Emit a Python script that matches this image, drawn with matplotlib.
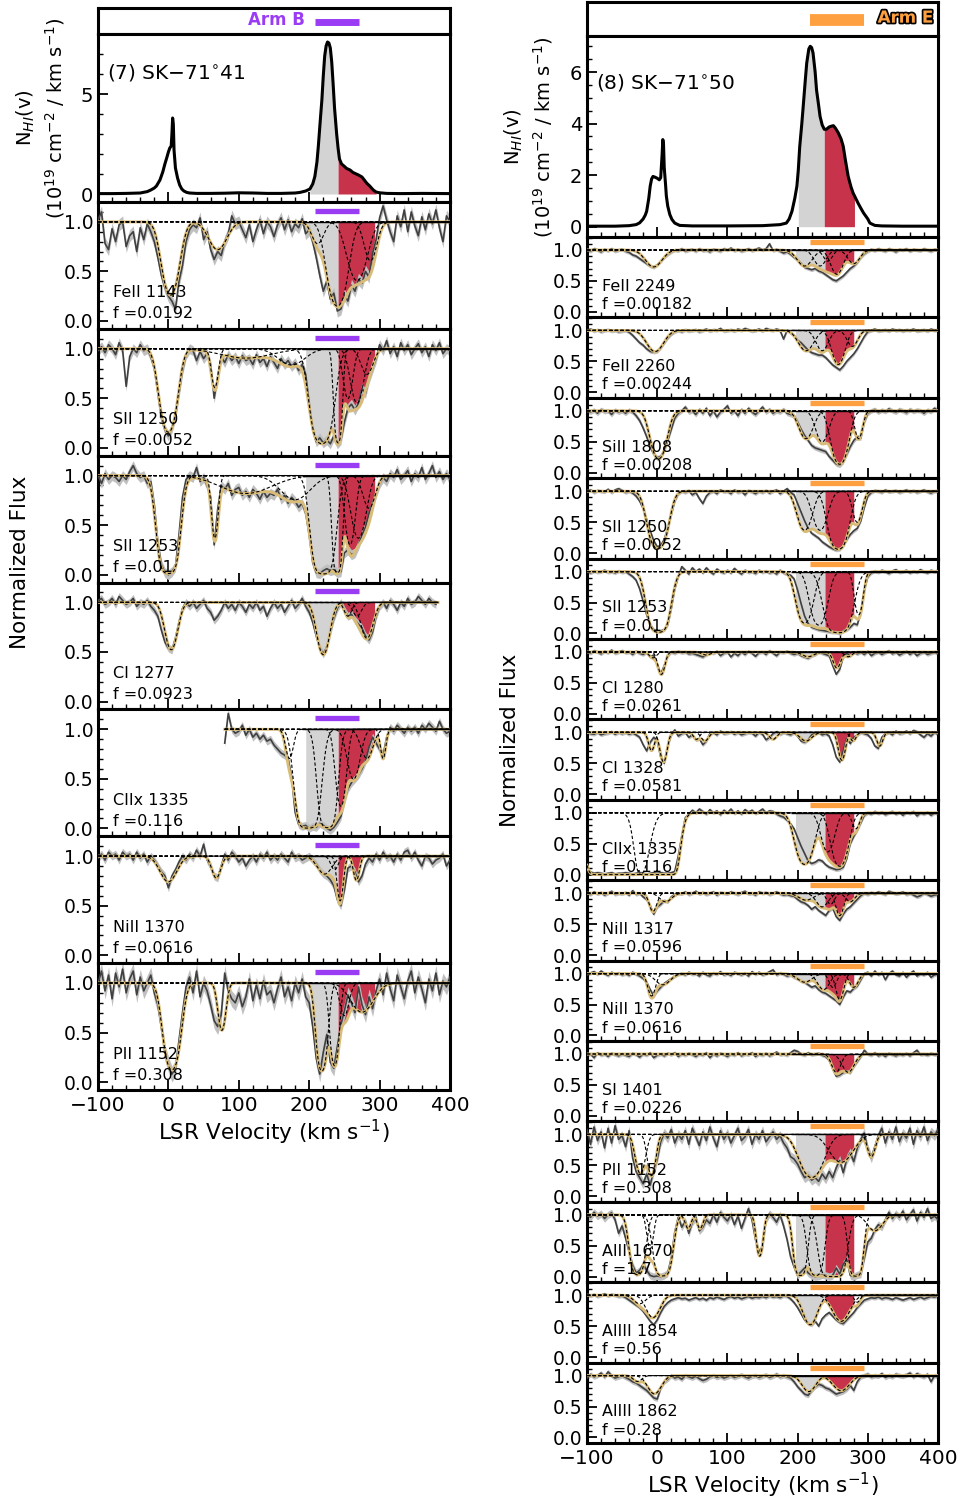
import numpy as np
import matplotlib
matplotlib.use('Agg')
import matplotlib.pyplot as plt
import matplotlib.patheffects as pe
from matplotlib.ticker import MultipleLocator

plt.rcParams['font.family'] = ['DejaVu Sans']
plt.rcParams['mathtext.fontset'] = 'dejavusans'
plt.rcParams['axes.linewidth'] = 2.2

nan = np.nan
# ---------------- data ----------------
VEL = list(range(-100, 401, 5))   # velocity grid of the spectra (km/s)

# HI column density profiles
HI_L_V = [-100,-80,-60,-40,-30,-25,-20,-17,-12,-8,-5,-2,0,2,4,5,6,7,8,10,13,16,19,22,26,30,40,60,80,100,120,140,160,180,187,195,201,205,208,211,213,216,218,220,222,224,226,228,230,232,234,236,239,241,243,246,250,253,258,262,265,270,275,280,282,286,291,295,300,310,330,360,400]
HI_L_N = [0.02,0.02,0.03,0.05,0.12,0.2,0.3,0.4,0.7,1.1,1.5,1.85,2.1,2.3,2.4,3.0,3.8,3.5,2.2,1.3,0.8,0.45,0.25,0.15,0.08,0.05,0.03,0.03,0.04,0.06,0.05,0.03,0.03,0.05,0.08,0.15,0.25,0.5,0.87,1.6,2.4,3.8,4.7,5.9,6.9,7.4,7.6,7.55,7.3,6.6,5.5,4.3,3.0,2.3,1.75,1.5,1.38,1.28,1.2,1.08,1.03,0.95,0.85,0.62,0.53,0.4,0.2,0.1,0.06,0.03,0.02,0.03,0.02]
HI_R_V = [-100,-60,-40,-30,-25,-20,-17,-15,-12,-10,-8,-6,-3,0,3,5,7,8,9,10,12,13,15,18,21,25,32,50,100,150,175,184,188,192,196,199,201,203,206,208,211,213,216,218,220,222,225,227,230,232,235,238,241,245,248,251,254,258,262,265,268,272,276,279,281,286,290,294,300,303,310,320,350,400]
HI_R_N = [0.02,0.02,0.04,0.08,0.15,0.3,0.45,0.6,1.1,1.57,1.85,1.95,1.92,1.88,1.82,1.9,2.8,3.38,3.2,2.3,1.6,1.2,0.8,0.47,0.28,0.14,0.05,0.03,0.03,0.04,0.08,0.14,0.3,0.6,1.1,1.57,2.2,3.1,4.0,4.67,5.7,6.35,6.9,7.0,6.95,6.74,6.0,5.3,4.7,4.28,3.95,3.78,3.78,3.87,3.9,3.92,3.82,3.64,3.4,3.12,2.6,1.96,1.55,1.31,1.2,0.92,0.72,0.53,0.3,0.14,0.05,0.03,0.02,0.02]

# velocity ranges of the shaded integration windows: (gray start, split, red end)
HI_L_WIN = (201, 241, 295)
HI_R_WIN = (201, 238, 281)
SPEC_L_WIN = (195, 241, 293)
SPEC_R_WIN = (197, 239, 280)
ARM_B = (208, 271)
ARM_E = (217, 294)

LEFT_LINES = ['FeII 1143', 'SII 1250', 'SII 1253', 'CI 1277', 'CIIx 1335', 'NiII 1370', 'PII 1152']
LEFT_F = ['0.0192', '0.0052', '0.01', '0.0923', '0.116', '0.0616', '0.308']
LEFT_ERR = [0.06, 0.05, 0.05, 0.04, 0.04, 0.04, 0.08]

L_FEII1143 = [1.02,1.10,0.78,0.72,0.93,0.80,0.97,1.00,0.75,0.86,
              0.90,0.70,0.94,0.82,0.98,0.90,0.80,0.64,0.46,0.34,
              0.25,0.20,0.12,0.40,0.56,0.80,0.92,0.97,0.94,1.04,
              0.82,0.90,0.72,0.62,0.70,0.66,0.80,0.88,1.06,0.98,
              1.00,0.92,0.84,0.97,0.80,0.92,1.02,0.88,1.00,0.95,
              0.85,0.97,1.04,0.92,1.02,0.90,0.98,0.94,1.03,0.88,
              0.92,0.80,0.64,0.46,0.30,0.40,0.22,0.28,0.10,0.12,
              0.26,0.20,0.36,0.30,0.42,0.38,0.50,0.44,0.68,0.82,
              1.04,1.16,1.02,0.90,0.80,1.06,0.95,1.12,0.90,1.10,
              0.96,0.86,1.05,0.92,1.08,0.98,1.12,0.94,0.80,1.06,
              1.00]
L_SII1250 = [0.98,1.02,0.96,1.04,1.00,0.94,1.06,0.98,0.62,0.92,
             1.00,0.96,1.04,0.98,1.00,0.92,0.80,0.55,0.30,0.18,
             0.12,0.20,0.32,0.55,0.78,0.94,1.00,0.98,0.88,0.97,
             0.90,0.95,0.84,0.50,0.72,0.92,0.86,0.94,0.88,0.92,
             0.85,0.93,0.88,0.90,0.84,0.94,0.86,0.90,0.82,0.92,
             0.86,0.80,0.90,0.84,0.88,0.82,0.86,0.78,0.84,0.74,
             0.45,0.18,0.06,0.10,0.05,0.08,0.04,0.12,0.04,0.08,
             0.26,0.40,0.44,0.38,0.45,0.60,0.55,0.70,0.80,0.90,
             1.04,0.98,1.08,0.95,1.02,0.92,1.06,0.98,1.04,0.94,
             1.00,1.05,0.96,1.02,0.92,1.04,0.98,1.06,0.95,1.00,
             0.98]
L_SII1253 = [1.00,0.92,1.02,0.96,1.00,0.98,0.94,1.00,0.96,1.04,
             1.10,1.02,0.98,1.00,0.92,0.94,0.70,0.32,0.10,0.02,
             0.00,0.03,0.08,0.40,0.78,0.96,1.00,0.98,1.08,0.94,
             0.98,0.90,0.78,0.30,0.66,0.90,0.86,0.92,0.80,0.86,
             0.88,0.80,0.84,0.78,0.86,0.82,0.76,0.84,0.78,0.82,
             0.80,0.86,0.76,0.80,0.72,0.78,0.74,0.68,0.72,0.62,
             0.40,0.12,0.02,0.01,0.04,0.06,0.04,0.05,0.02,0.03,
             0.22,0.25,0.20,0.22,0.30,0.40,0.48,0.62,0.72,0.82,
             0.92,0.98,0.94,1.02,0.98,1.06,0.96,1.00,1.05,0.94,
             1.02,0.98,1.08,0.96,1.02,1.10,0.98,1.04,0.96,1.02,
             0.96]
L_CI1277 = [1.02,1.04,0.98,1.00,1.04,0.98,1.06,1.02,0.98,1.00,
            1.04,0.96,1.00,0.98,1.02,0.96,0.92,0.86,0.72,0.60,
            0.54,0.52,0.64,0.80,0.94,1.00,0.96,1.00,0.94,0.98,
            1.02,0.94,0.90,0.82,0.86,0.92,1.00,0.94,0.98,0.92,
            1.00,0.96,0.90,0.98,0.94,1.00,0.92,0.96,0.86,0.94,
            1.00,0.94,0.98,0.90,0.96,1.02,0.94,0.98,1.04,0.96,
            0.90,0.80,0.66,0.54,0.48,0.55,0.70,0.84,0.94,1.00,
            0.92,0.86,0.88,0.82,0.78,0.74,0.66,0.62,0.70,0.86,
            0.96,1.00,0.94,1.02,0.98,0.92,1.00,0.96,1.04,0.98,
            1.00,1.06,1.02,0.98,1.04,1.00,0.98,nan,nan,nan,
            nan]
L_CIIX1335 = [nan]*36 + [0.86,1.16,1.00,0.96,
              0.98,1.04,0.94,1.00,0.92,0.96,0.90,0.94,0.88,0.90,
              0.84,0.80,0.76,0.74,0.70,0.52,0.16,0.04,0.02,0.03,
              0.00,0.02,0.01,0.05,0.03,0.00,-0.02,0.01,0.06,0.12,
              0.28,0.40,0.46,0.50,0.54,0.60,0.68,0.82,0.92,0.86,
              0.80,0.74,0.92,1.02,0.98,1.04,1.00,0.96,1.02,0.98,
              1.02,0.96,1.04,1.00,1.06,1.02,0.98,1.08,1.00,0.96,
              0.98]
L_NIII1370 = [0.98,1.02,0.96,1.04,1.00,1.02,0.96,1.04,1.00,1.02,
              0.96,1.04,0.98,1.02,0.94,1.00,0.96,0.90,0.84,0.80,
              0.68,0.80,0.86,0.94,1.00,0.96,1.02,0.98,1.06,1.00,
              1.12,0.96,0.90,0.80,0.78,0.90,1.02,0.96,1.04,1.00,
              0.94,0.98,0.90,0.96,1.00,0.94,1.02,0.98,1.04,0.96,
              1.00,0.96,1.02,0.98,0.94,1.04,0.98,1.00,0.96,0.98,
              1.00,0.96,0.92,0.86,0.82,0.80,0.76,0.70,0.56,0.50,
              0.66,0.88,0.90,0.84,0.74,0.80,0.92,0.98,0.94,1.02,
              0.96,1.04,0.98,1.00,0.94,1.02,0.96,1.04,1.06,0.98,
              1.04,0.96,0.90,1.00,0.98,0.92,0.96,0.98,1.02,0.90,
              0.96]
L_PII1152 = [1.00,1.12,0.92,1.08,0.84,1.10,0.96,1.14,0.90,1.04,
             1.12,0.88,1.06,0.92,1.00,1.08,0.90,0.78,0.55,0.30,
             0.18,0.08,0.14,0.42,0.70,0.96,1.06,0.90,1.12,0.86,
             1.00,0.92,0.78,0.62,0.56,0.68,1.10,0.92,0.84,0.80,
             0.90,0.76,0.86,1.04,0.82,0.98,0.84,1.02,0.88,0.92,
             0.80,0.94,1.06,0.86,0.96,0.82,1.00,0.90,1.04,0.86,
             0.80,0.56,0.24,0.08,0.30,0.48,0.20,0.14,0.36,0.58,
             0.72,0.88,0.80,0.70,0.96,0.78,0.68,0.86,0.74,0.92,
             1.04,0.88,1.10,0.94,0.82,1.08,0.96,0.84,1.02,1.12,
             0.90,1.06,0.94,0.80,1.04,0.92,1.10,0.88,1.02,0.96,
             1.06]
LEFT_FLUX = [L_FEII1143, L_SII1250, L_SII1253, L_CI1277, L_CIIX1335, L_NIII1370, L_PII1152]

# fitted components (centre km/s, peak optical depth, Gaussian width km/s)
LEFT_COMPS = [
    [(3,1.35,10),(70,0.33,12),(212,0.25,8),(240,1.9,11),(268,0.9,12),(287,0.5,8)],
    [(0,1.85,9.5),(66,0.5,4.5),(110,0.10,35),(175,0.18,18),(218,3.2,11),(241,3.0,4),(255,0.7,6),(268,0.8,8),(282,0.3,8)],
    [(0,4.5,9.5),(66,1.0,4),(110,0.2,35),(180,0.28,20),(220,5,10),(240,4,4.5),(258,1.2,6),(270,1.0,9),(285,0.4,8)],
    [(4,0.65,8),(220,0.75,8),(255,0.15,5),(268,0.15,6),(282,0.45,8)],
    [(172,0.35,5),(198,6,10),(226,5,8),(245,1.5,6),(263,0.7,8),(282,0.35,8),(305,0.35,3.5)],
    [(0,0.3,11),(68,0.25,6),(222,0.2,10),(236,0.15,5),(244,0.6,4),(267,0.28,4)],
    [(5,2.1,9),(76,0.65,5),(218,2.2,6),(236,1.8,5),(250,0.4,6),(275,0.35,15)],
]
LEFT_MODEL_RANGE = [(-100,400),(-100,400),(-100,400),(-100,383),(80,400),(-100,400),(-100,400)]

RIGHT_LINES = ['FeII 2249','FeII 2260','SiII 1808','SII 1250','SII 1253','CI 1280','CI 1328','CIIx 1335',
               'NiII 1317','NiII 1370','SI 1401','PII 1152','AlII 1670','AlIII 1854','AlIII 1862']
RIGHT_F = ['0.00182','0.00244','0.00208','0.0052','0.01','0.0261','0.0581','0.116',
           '0.0596','0.0616','0.0226','0.308','1.7','0.56','0.28']
RIGHT_ERR = [0.03,0.03,0.04,0.03,0.03,0.03,0.03,0.03,0.03,0.03,0.03,0.08,0.06,0.03,0.04]

R_FEII2249 = [1.00,0.98,1.02,1.00,0.97,1.01,0.99,1.02,0.98,1.00,
              1.01,0.98,0.96,0.92,0.90,0.86,0.82,0.78,0.74,0.72,
              0.76,0.82,0.88,0.93,0.97,1.00,0.99,1.02,0.98,1.00,
              1.01,0.98,1.02,0.99,1.00,0.97,1.01,1.00,0.98,1.02,
              1.00,1.03,0.99,1.01,0.98,1.00,1.02,0.99,1.01,1.03,
              1.00,1.02,1.10,0.99,1.01,0.98,0.95,0.97,0.93,0.88,
              0.84,0.78,0.72,0.70,0.68,0.70,0.66,0.64,0.60,0.56,
              0.52,0.50,0.54,0.58,0.64,0.70,0.74,0.80,0.88,0.94,
              0.98,1.01,0.99,1.02,1.00,0.98,1.02,1.00,0.97,1.01,
              1.00,1.02,0.98,1.01,1.00,0.99,1.02,1.00,0.98,1.01,
              1.00]
R_FEII2260 = [1.00,1.02,0.99,1.01,0.98,1.00,1.01,0.99,1.00,0.98,
              0.99,1.00,0.97,0.92,0.86,0.80,0.76,0.70,0.66,0.65,
              0.66,0.72,0.80,0.88,0.94,0.98,1.00,0.98,1.01,0.99,
              1.00,1.01,0.98,1.00,1.02,0.99,1.01,1.00,1.03,0.99,
              1.00,1.01,0.99,1.02,1.00,1.03,1.01,0.99,1.00,1.02,
              0.99,1.03,1.01,1.00,1.02,1.00,0.86,1.00,0.96,0.92,
              0.84,0.80,0.74,0.68,0.64,0.62,0.60,0.60,0.56,0.50,
              0.44,0.40,0.36,0.42,0.50,0.56,0.62,0.70,0.80,0.90,
              0.98,1.00,1.02,0.99,1.00,1.01,0.99,1.02,1.00,1.01,
              0.99,1.01,1.00,1.02,0.99,1.00,1.01,0.99,1.02,1.00,
              1.01]
R_SIII1808 = [1.00,0.98,1.01,0.96,1.02,0.99,1.00,0.94,1.01,0.98,
              1.00,0.96,1.01,0.98,0.92,0.84,0.72,0.58,0.42,0.30,
              0.24,0.26,0.36,0.52,0.70,0.88,0.96,1.00,1.06,0.98,
              1.00,0.94,1.02,0.96,1.04,0.92,1.00,0.90,0.98,1.02,
              1.08,0.96,1.00,0.92,1.02,0.96,1.04,0.98,0.94,1.00,
              1.06,0.98,1.02,0.96,1.00,0.98,1.02,0.96,0.94,0.92,
              0.82,0.70,0.60,0.52,0.44,0.40,0.38,0.36,0.34,0.26,
              0.20,0.14,0.12,0.18,0.30,0.42,0.52,0.58,0.56,0.82,
              0.96,1.00,1.02,0.98,1.01,0.99,1.03,1.00,0.98,1.02,
              1.00,0.97,1.02,0.99,1.01,1.00,0.96,1.01,0.99,1.04,
              1.00]
R_SII1250 = [1.00,1.02,0.98,1.01,1.00,0.99,1.03,0.98,1.02,1.04,
             1.01,0.98,1.00,0.97,0.92,0.84,0.72,0.54,0.36,0.20,
             0.10,0.12,0.22,0.40,0.62,0.84,0.96,1.00,0.98,1.01,
             0.94,0.98,0.88,0.80,0.92,0.98,1.00,0.96,1.02,0.99,
             1.00,0.96,1.02,0.98,1.00,0.94,1.01,0.99,0.96,1.00,
             0.98,1.01,0.97,1.00,1.02,0.96,1.00,1.04,0.98,0.94,
             0.80,0.66,0.52,0.40,0.32,0.28,0.24,0.18,0.14,0.10,
             0.07,0.05,0.06,0.12,0.22,0.30,0.36,0.40,0.52,0.74,
             0.92,0.98,1.01,1.00,0.98,1.02,0.99,1.00,1.01,0.98,
             1.00,1.02,0.99,1.01,0.98,1.00,1.02,0.99,0.97,1.00,
             1.00]
R_SII1253 = [1.00,0.98,1.01,0.99,1.00,1.02,0.99,1.00,0.98,1.01,
             0.99,1.00,0.96,0.92,0.86,0.72,0.52,0.30,0.14,0.06,
             0.03,0.04,0.06,0.14,0.40,0.72,0.92,1.08,1.02,0.96,
             1.06,1.00,1.04,0.98,1.06,1.00,0.96,1.04,1.00,0.98,
             1.02,0.98,1.05,1.00,0.96,1.02,0.99,1.00,0.97,1.02,
             0.99,1.01,0.98,1.00,0.96,1.02,0.98,0.96,0.94,0.88,
             0.70,0.48,0.28,0.16,0.10,0.08,0.06,0.05,0.04,0.03,
             0.02,0.02,0.00,0.04,0.06,0.10,0.16,0.14,0.34,0.70,
             0.92,0.98,1.01,0.99,1.02,1.00,0.97,1.01,1.03,0.99,
             1.00,1.02,0.98,1.01,0.99,1.03,1.00,0.98,1.02,1.00,
             1.02]
R_CI1280 = [1.00,0.98,1.02,1.00,0.97,1.01,0.99,1.03,0.98,1.00,
            1.02,0.99,1.00,0.96,1.01,0.98,0.96,1.00,0.92,0.95,
            0.80,0.64,0.78,0.94,1.00,0.98,1.01,0.99,1.00,0.97,
            0.98,0.96,0.94,0.92,0.96,1.00,0.98,1.01,0.94,0.98,
            1.00,0.92,0.98,0.94,1.00,0.96,1.01,0.98,0.93,0.99,
            1.00,0.96,1.02,0.98,0.94,1.00,0.99,1.01,0.98,0.96,
            0.98,0.94,0.92,0.90,0.94,0.96,1.00,0.98,0.96,0.94,
            0.78,0.64,0.72,0.92,0.98,0.94,1.00,0.97,1.00,0.96,
            1.01,0.94,0.98,1.00,0.96,0.99,1.02,0.97,1.00,0.95,
            0.98,1.01,0.96,1.00,0.94,0.98,1.00,0.96,0.98,1.00,
            0.97]
R_CI1328 = [1.00,0.98,0.97,1.00,0.96,0.98,0.99,1.01,0.97,1.00,
            0.98,1.00,0.97,0.99,0.96,0.92,0.80,0.70,0.84,0.92,
            0.86,0.60,0.50,0.78,0.96,1.04,0.94,0.98,1.00,0.92,
            0.96,0.88,0.90,0.80,0.86,0.98,1.00,0.96,1.02,0.98,
            0.99,1.01,0.97,1.00,0.96,0.98,1.00,0.99,0.94,1.00,
            0.97,0.88,0.92,0.98,1.01,0.97,1.00,0.98,0.96,1.00,
            0.94,0.86,0.84,0.88,0.96,0.98,1.00,0.96,0.98,0.94,
            0.80,0.60,0.52,0.70,0.90,0.82,0.92,0.96,1.00,0.98,
            0.96,0.90,0.78,0.74,0.92,0.98,1.00,0.96,1.02,0.98,
            0.99,1.02,0.98,1.03,1.01,0.96,0.92,0.98,0.94,1.00,
            0.97]
R_CIIX1335 = [0.10,0.04,0.02,0.03,0.02,0.01,0.02,0.03,0.01,0.02,
              0.02,0.03,0.02,0.01,0.02,0.03,0.02,0.01,0.02,0.03,
              0.02,0.03,0.02,0.02,0.03,0.05,0.30,0.62,0.92,0.98,
              1.04,1.00,1.06,1.02,0.98,1.05,1.00,1.03,0.97,1.04,
              1.00,1.06,0.99,1.03,0.98,1.05,1.01,1.04,0.99,1.02,
              1.06,1.00,1.03,1.02,0.98,0.95,0.93,0.88,0.82,0.74,
              0.60,0.46,0.34,0.22,0.18,0.20,0.24,0.22,0.16,0.12,
              0.10,0.08,0.09,0.12,0.26,0.50,0.62,0.72,0.84,0.96,
              1.00,0.98,1.02,0.99,1.01,0.97,1.00,1.02,0.98,1.01,
              0.96,1.01,0.99,1.02,0.95,1.00,0.98,1.01,0.96,1.00,
              0.99]
R_NIII1317 = [1.00,0.98,1.02,0.99,1.01,0.97,1.00,1.03,0.98,1.00,
              0.99,1.01,0.97,1.04,0.98,1.00,0.94,0.90,0.80,0.66,
              0.78,0.82,0.88,0.86,0.94,0.98,1.00,0.99,1.02,0.98,
              1.00,1.03,0.99,1.01,0.98,1.00,1.02,0.97,1.01,1.00,
              0.99,1.02,1.00,0.98,1.01,1.03,0.99,1.00,0.97,1.02,
              1.00,1.01,0.98,1.00,1.02,0.99,0.97,0.98,0.96,0.95,
              0.90,0.86,0.84,0.80,0.74,0.78,0.72,0.68,0.64,0.72,
              0.76,0.62,0.56,0.66,0.74,0.78,0.84,0.90,0.96,1.00,
              0.98,1.01,0.99,1.02,1.00,0.98,1.03,1.01,0.99,1.00,
              1.02,0.98,1.00,0.97,0.94,0.96,1.00,0.98,0.95,0.97,
              0.98]
R_NIII1370 = [0.98,1.01,1.03,0.99,1.04,1.00,0.97,1.02,0.99,1.01,
              0.98,1.00,0.97,1.02,0.99,0.96,0.92,0.86,0.74,0.64,
              0.72,0.78,0.84,0.88,0.92,0.96,0.99,1.00,0.98,1.02,
              0.99,1.00,0.96,1.02,0.98,0.96,1.01,0.99,1.03,0.98,
              1.00,0.97,1.02,1.00,0.98,1.01,0.96,1.03,0.99,1.02,
              0.98,1.00,1.03,1.06,0.98,1.01,0.99,0.96,0.98,0.94,
              0.92,0.88,0.86,0.82,0.78,0.80,0.74,0.70,0.68,0.64,
              0.60,0.56,0.50,0.62,0.72,0.70,0.76,0.80,0.90,1.00,
              1.02,0.96,1.04,0.98,1.02,0.90,1.00,1.04,0.98,0.96,
              1.02,0.94,1.00,1.04,0.96,1.00,0.98,1.02,0.94,0.98,
              1.00]
R_SI1401 = [0.98,1.00,0.94,1.02,0.98,1.00,0.96,1.01,0.99,0.97,
            1.00,0.98,0.96,1.01,0.99,0.95,1.00,0.98,1.02,0.94,
            0.98,1.00,0.97,1.01,0.99,1.02,0.96,1.00,0.98,1.01,
            0.99,0.96,1.00,0.98,1.02,0.94,1.00,0.97,1.01,0.99,
            0.96,1.00,0.98,1.02,0.97,1.00,0.99,1.02,0.96,1.00,
            0.98,1.01,0.97,1.00,1.03,0.99,1.00,0.98,1.02,1.06,
            1.04,1.00,0.98,1.02,0.99,1.00,1.01,0.98,0.96,0.90,
            0.76,0.64,0.66,0.70,0.72,0.70,0.80,0.88,0.96,1.06,
            1.00,0.98,1.02,0.97,1.00,0.96,1.01,0.99,0.97,1.00,
            0.98,1.01,0.97,1.02,1.06,0.99,1.00,0.98,1.01,0.99,
            1.00]
R_PII1152 = [1.08,0.84,1.12,0.90,1.04,0.78,1.10,0.86,1.14,0.92,
             0.98,0.80,1.06,0.62,0.40,0.30,0.20,0.36,0.18,0.42,
             0.60,0.88,1.02,0.94,1.08,0.86,1.00,0.92,1.06,0.84,
             1.10,0.96,0.82,1.04,0.90,1.12,0.94,0.80,1.06,0.92,
             1.02,0.86,0.98,1.10,0.90,0.96,1.08,0.84,1.00,0.92,
             1.06,0.88,0.96,1.04,0.92,0.98,0.86,0.78,0.64,0.60,
             0.52,0.40,0.30,0.34,0.26,0.30,0.24,0.36,0.28,0.40,
             0.30,0.46,0.58,0.38,0.60,0.70,0.56,0.78,0.92,1.02,
             0.76,0.62,0.80,0.98,1.10,0.86,1.04,0.92,1.12,0.88,
             1.02,0.94,1.10,0.84,1.06,0.96,1.12,0.90,1.04,0.98,
             1.08]
R_ALII1670 = [1.00,0.96,1.04,0.98,1.02,0.94,1.00,1.03,0.92,0.70,
              0.82,0.62,0.40,0.18,0.06,0.10,0.20,0.10,0.02,0.00,
              0.01,0.00,0.02,0.06,0.30,0.72,0.96,0.80,0.90,0.70,
              0.88,0.96,0.74,0.80,0.92,0.86,1.00,0.88,1.04,0.96,
              0.90,1.00,0.84,0.98,0.78,0.94,1.10,0.92,0.60,0.40,
              0.48,0.92,1.02,0.96,0.88,1.00,0.82,0.60,0.32,0.16,
              0.02,0.08,0.14,0.06,0.02,0.00,0.01,0.03,0.02,0.00,
              0.02,0.14,0.04,0.20,0.28,0.02,0.00,0.03,0.04,0.30,
              0.56,0.62,0.76,0.84,0.80,0.92,1.04,0.94,1.02,0.96,
              1.06,0.92,1.00,1.08,0.90,1.04,0.96,1.10,0.94,0.98,
              0.92]
R_ALIII1854 = [1.00,0.99,1.01,0.98,1.00,1.02,0.99,1.01,1.00,0.98,
               0.99,0.96,0.92,0.88,0.84,0.80,0.74,0.66,0.58,0.52,
               0.60,0.72,0.82,0.88,0.92,0.94,0.96,0.94,0.95,0.92,
               0.94,0.96,0.93,0.95,0.92,0.96,0.94,0.97,0.95,0.93,
               0.96,0.98,0.95,0.97,0.94,0.96,0.98,0.95,0.97,0.96,
               0.98,0.96,0.99,0.97,0.98,0.96,0.99,0.98,0.94,0.88,
               0.80,0.70,0.60,0.54,0.52,0.58,0.50,0.62,0.68,0.72,
               0.66,0.60,0.56,0.54,0.60,0.66,0.72,0.80,0.86,0.92,
               0.94,0.96,0.95,0.97,0.94,0.96,0.95,0.93,0.96,0.94,
               0.92,0.94,0.96,0.93,0.95,0.97,0.94,0.96,0.98,0.97,
               0.99]
R_ALIII1862 = [0.96,1.02,0.98,1.00,1.04,0.98,1.06,1.00,0.96,0.98,
               1.00,0.97,0.94,0.90,0.88,0.84,0.80,0.76,0.70,0.64,
               0.62,0.80,0.90,0.94,1.00,0.96,0.98,0.94,1.00,0.98,
               0.96,0.99,0.95,0.92,0.94,0.98,1.00,0.97,0.99,0.96,
               0.98,1.00,0.97,0.99,1.01,0.98,0.96,0.99,1.00,0.97,
               0.99,1.01,0.97,0.99,1.02,0.98,1.00,0.98,0.96,0.90,
               0.82,0.76,0.70,0.68,0.76,0.82,0.86,0.84,0.80,0.78,
               0.74,0.70,0.72,0.74,0.78,0.84,0.76,0.90,0.98,1.00,
               1.02,0.98,1.00,0.99,1.03,0.97,1.00,0.98,1.02,1.00,
               0.99,1.01,1.04,0.98,1.03,1.00,0.98,1.02,0.90,1.00,
               0.98]
RIGHT_FLUX = [R_FEII2249, R_FEII2260, R_SIII1808, R_SII1250, R_SII1253, R_CI1280, R_CI1328, R_CIIX1335,
              R_NIII1317, R_NIII1370, R_SI1401, R_PII1152, R_ALII1670, R_ALIII1854, R_ALIII1862]

RIGHT_COMPS = [
    [(-5,0.32,11),(210,0.3,10),(232,0.3,8),(243,0.2,6),(256,0.5,8),(280,0.25,8)],
    [(-3,0.42,11),(212,0.4,10),(235,0.4,8),(258,0.8,8),(278,0.3,7)],
    [(2,1.5,9),(212,0.6,9),(235,0.7,8),(260,2.0,9),(287,0.6,5)],
    [(1,2.6,10),(210,1.0,9),(232,1.0,9),(258,2.8,10),(285,0.7,6)],
    [(2,4,10),(210,1.8,9),(230,2.0,9),(258,4.5,12),(287,1.2,5)],
    [(-6,0.1,5),(6,0.45,4.5),(70,0.05,6),(215,0.08,8),(256,0.3,5),(272,0.08,5)],
    [(-8,0.35,4),(9,0.65,4.5),(56,0.12,4),(68,0.15,5),(165,0.12,5),(212,0.15,8),(263,0.6,4.5),(279,0.15,4),(317,0.25,4)],
    [(-58,40,17),(0,40,12),(210,1.8,10),(243,1.0,8),(260,2.0,9),(283,0.3,5)],
    [(-6,0.35,5),(12,0.15,8),(212,0.12,10),(235,0.25,8),(247,0.2,5),(260,0.45,5),(275,0.15,6)],
    [(-8,0.45,5),(8,0.2,10),(210,0.15,10),(237,0.3,8),(250,0.25,5),(260,0.55,5),(280,0.25,6)],
    [(255,0.35,6),(272,0.35,8)],
    [(-24,1.0,6),(-8,1.1,5),(220,1.2,14),(262,0.6,15),(305,0.45,5)],
    [(-28,3.5,7),(-10,0.8,4),(8,4.5,8),(44,0.25,4),(61,0.25,4),(146,1.1,4),(204,4,6),(226,4,7),(250,8,10),(283,5,6),(310,0.3,10)],
    [(-25,0.15,8),(-6,0.45,9),(218,0.65,9),(262,0.55,11),(285,0.12,4)],
    [(-28,0.1,6),(-4,0.35,9),(216,0.3,9),(262,0.28,11)],
]

# ---------------- styling ----------------
GRAY = '#d3d3d3'
RED = '#c8334c'
PURPLE = '#9b3cf5'
ORANGE = '#ffa040'
FITC = '#d9bc78'
DATAC = '#404040'
BANDC = '#c0c0c0'
XLIM = (-100, 400)
CONT_START = 190

W, H = 964, 1504
fig = plt.figure(figsize=(W/100, H/100), dpi=100)

def add_ax(x0, x1, ytop, ybot):
    return fig.add_axes([x0/W, 1-ybot/H, (x1-x0)/W, (ybot-ytop)/H])

def comp_profile(vv, c, t, s):
    return np.exp(-t*np.exp(-0.5*((vv-c)/s)**2))

def style_ticks(ax, ylab=13.5):
    ax.xaxis.set_major_locator(MultipleLocator(100))
    ax.xaxis.set_minor_locator(MultipleLocator(20))
    ax.tick_params(which='both', direction='in', top=False, right=False, labelsize=ylab)
    ax.tick_params(which='major', length=7, width=1.3)
    ax.tick_params(which='minor', length=3.5, width=1.0)

def draw_spec(ax, flux, err, comps, name, fval, win, bar, barc, bary, mrange, ylim, lab_y):
    v = np.array(VEL, dtype=float)
    fl = np.array(flux, dtype=float)
    vf = np.linspace(mrange[0], mrange[1], 2001)
    m = np.ones_like(vf)
    for c, t, s in comps:
        m = m*comp_profile(vf, c, t, s)
    g0, sp, r1 = win
    ax.fill_between(vf, m, 1, where=(vf >= g0) & (vf <= sp), color=GRAY, lw=0, zorder=1)
    ax.fill_between(vf, m, 1, where=(vf >= sp) & (vf <= r1), color=RED, lw=0, zorder=1)
    ax.fill_between(v, fl-err, fl+err, color=BANDC, lw=0, zorder=2)
    ax.plot(v, fl, color=DATAC, lw=1.2, zorder=3)
    ax.plot(vf, m, color=FITC, lw=2.1, zorder=4)
    for c, t, s in comps:
        ax.plot(vf, comp_profile(vf, c, t, s), color='k', lw=0.8, ls=(0, (3, 2)), zorder=5)
    ax.hlines(1, CONT_START, mrange[1], color='k', lw=1.0, zorder=6)
    ax.plot(bar, [bary, bary], color=barc, lw=3.8, solid_capstyle='butt', zorder=6)
    ax.set_xlim(*XLIM)
    ax.set_ylim(*ylim)
    ax.set_yticks([0, 0.5, 1.0])
    ax.yaxis.set_minor_locator(MultipleLocator(0.1))
    ax.set_yticklabels(['0.0', '0.5', '1.0'])
    style_ticks(ax)
    ax.text(0.043, lab_y[0], name, transform=ax.transAxes, fontsize=11.5, va='center', ha='left', zorder=7)
    ax.text(0.043, lab_y[1], 'f =' + fval, transform=ax.transAxes, fontsize=11.5, va='center', ha='left', zorder=7)

def draw_hi(ax, v, n, win, ylim, major, minor, label):
    v = np.array(v, dtype=float)
    n = np.array(n, dtype=float)
    g0, sp, r1 = win
    ax.fill_between(v, n, 0, where=(v >= g0) & (v <= sp), color=GRAY, lw=0)
    ax.fill_between(v, n, 0, where=(v >= sp) & (v <= r1), color=RED, lw=0)
    ax.plot(v, n, color='k', lw=2.2)
    ax.set_xlim(*XLIM)
    ax.set_ylim(*ylim)
    ax.yaxis.set_major_locator(MultipleLocator(major))
    ax.yaxis.set_minor_locator(MultipleLocator(minor))
    style_ticks(ax, 14)
    ax.tick_params(labelbottom=False)
    ax.text(0.025, 0.77, label, transform=ax.transAxes, fontsize=14.5, va='center', ha='left')

def strip(ax):
    ax.set_xlim(*XLIM)
    ax.set_ylim(0, 1)
    ax.set_xticks([])
    ax.set_yticks([])

# ---------------- left column ----------------
LX0, LX1 = 98, 450
axs = add_ax(LX0, LX1, 8, 34)
strip(axs)
axs.plot(ARM_B, [0.45, 0.45], color=PURPLE, lw=5, solid_capstyle='butt')
axs.text(194, 0.52, 'Arm B', color=PURPLE, fontweight='bold', fontsize=12, ha='right', va='center')

axh = add_ax(LX0, LX1, 34, 202)
draw_hi(axh, HI_L_V, HI_L_N, HI_L_WIN, (-0.4, 8.0), 5, 1, '(7) SK$-$71$^{\\circ}$41')

ph = (1090-202)/7
for i in range(7):
    ax = add_ax(LX0, LX1, 202+i*ph, 202+(i+1)*ph)
    draw_spec(ax, LEFT_FLUX[i], LEFT_ERR[i], LEFT_COMPS[i], LEFT_LINES[i], LEFT_F[i],
              SPEC_L_WIN, ARM_B, PURPLE, 1.11, LEFT_MODEL_RANGE[i], (-0.08, 1.2), (0.283, 0.118))
    if i < 6:
        ax.tick_params(labelbottom=False)
    else:
        ax.tick_params(axis='x', labelsize=14.5, pad=4)
        ax.set_xlabel('LSR Velocity (km s$^{-1}$)', fontsize=15.5, labelpad=2)

fig.text(20/W, 1-562/H, 'Normalized Flux', rotation=90, fontsize=15.5, ha='center', va='center')
fig.text(41/W, 1-118/H, 'N$_{HI}$(v)\n(10$^{19}$ cm$^{-2}$ / km s$^{-1}$)', rotation=90,
         fontsize=14, ha='center', va='center', multialignment='center', linespacing=1.3)

# ---------------- right column ----------------
RX0, RX1 = 587, 938
axs2 = add_ax(RX0, RX1, 2, 36)
strip(axs2)
axs2.plot(ARM_E, [0.47, 0.47], color=ORANGE, lw=8.5, solid_capstyle='butt')
axs2.text(314, 0.54, 'Arm E', color=ORANGE, fontweight='bold', fontsize=12, ha='left', va='center',
          path_effects=[pe.withStroke(linewidth=2.5, foreground='k')])

axh2 = add_ax(RX0, RX1, 36, 237)
draw_hi(axh2, HI_R_V, HI_R_N, HI_R_WIN, (-0.4, 7.4), 2, 0.5, '(8) SK$-$71$^{\\circ}$50')

ph2 = (1443-237)/15
for i in range(15):
    ax = add_ax(RX0, RX1, 237+i*ph2, 237+(i+1)*ph2)
    draw_spec(ax, RIGHT_FLUX[i], RIGHT_ERR[i], RIGHT_COMPS[i], RIGHT_LINES[i], RIGHT_F[i],
              SPEC_R_WIN, ARM_E, ORANGE, 1.13, (-100, 400), (-0.09, 1.21), (0.386, 0.16))
    if i < 14:
        ax.tick_params(labelbottom=False)
    else:
        ax.tick_params(axis='x', labelsize=14.5, pad=4)
        ax.set_xlabel('LSR Velocity (km s$^{-1}$)', fontsize=15.5, labelpad=2)

fig.text(510/W, 1-740/H, 'Normalized Flux', rotation=90, fontsize=15.5, ha='center', va='center')
fig.text(529/W, 1-137/H, 'N$_{HI}$(v)\n(10$^{19}$ cm$^{-2}$ / km s$^{-1}$)', rotation=90,
         fontsize=14, ha='center', va='center', multialignment='center', linespacing=1.3)

fig.savefig('out.png', dpi=100)
